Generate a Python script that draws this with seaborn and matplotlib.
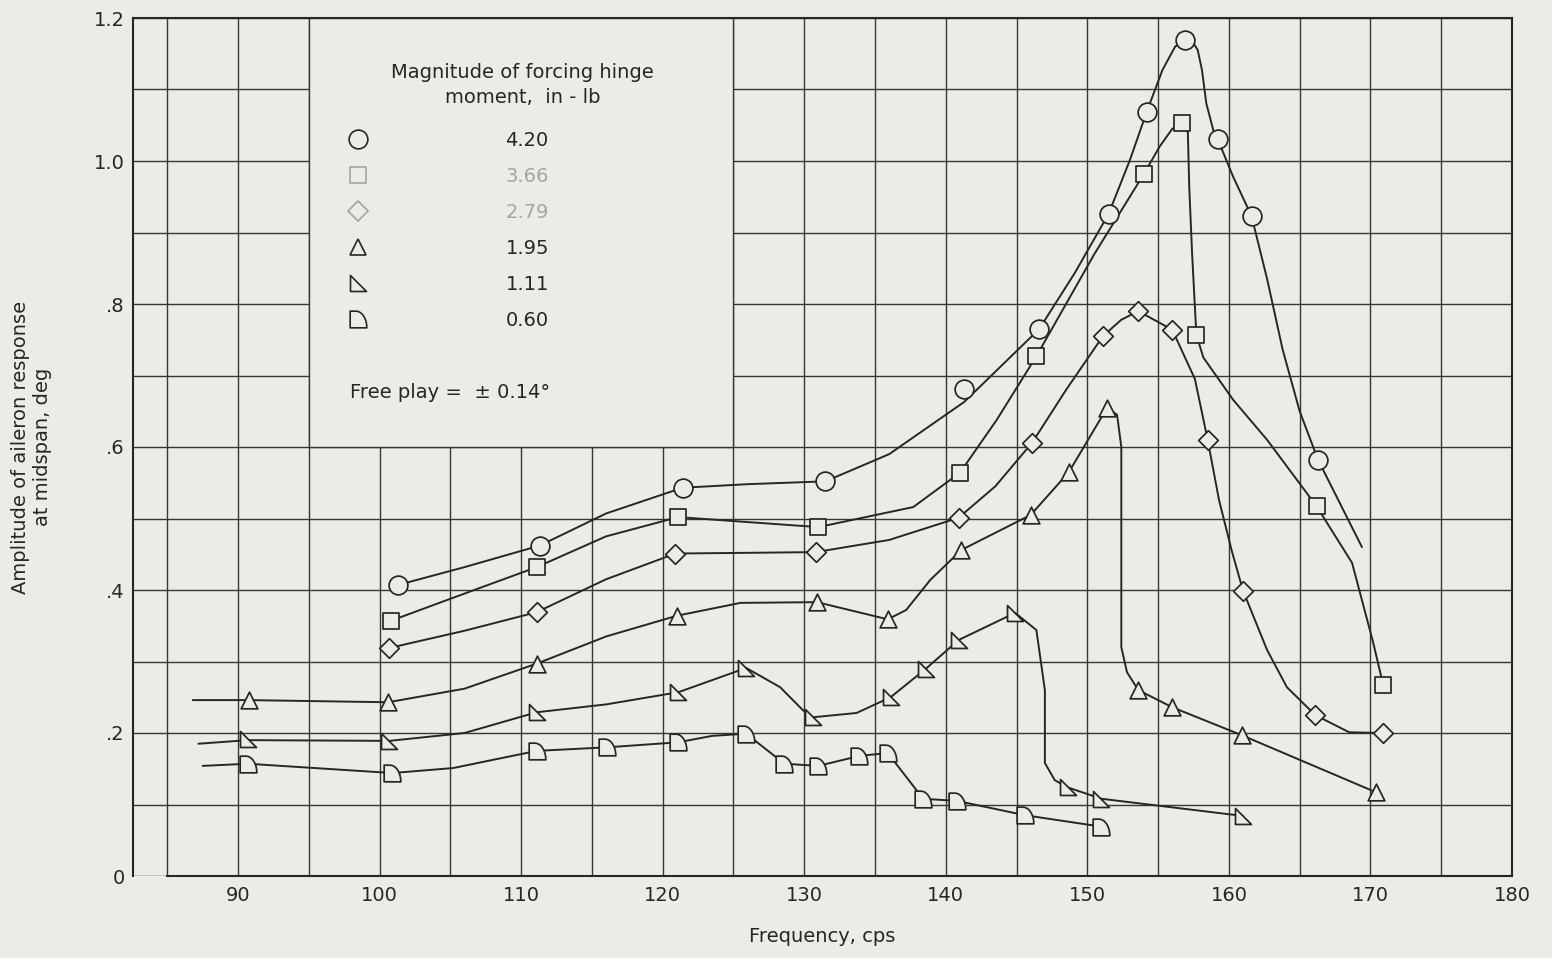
import numpy as np
import matplotlib
matplotlib.use("Agg")
import matplotlib.pyplot as plt
from matplotlib.path import Path
from matplotlib.lines import Line2D
from matplotlib.patches import Rectangle
import seaborn as sns

# ------------------------------------------------------------------
# values
# ------------------------------------------------------------------
hinge_moments = ["4.20", "3.66", "2.79", "1.95", "1.11", "0.60"]

# measured points (markers)
freq_420 = [101.3, 111.3, 121.4, 131.5, 141.3, 146.6, 151.5, 154.2, 156.9, 159.2, 161.6, 166.3]
amp_420 = [0.407, 0.462, 0.543, 0.552, 0.681, 0.765, 0.926, 1.069, 1.169, 1.031, 0.923, 0.582]

freq_366 = [100.8, 111.1, 121.1, 131.0, 141.0, 146.4, 154.0, 156.7, 157.7, 166.2, 170.9]
amp_366 = [0.357, 0.432, 0.502, 0.488, 0.564, 0.727, 0.982, 1.053, 0.757, 0.517, 0.267]

freq_279 = [100.7, 111.1, 120.9, 130.8, 140.9, 146.1, 151.1, 153.6, 156.0, 158.5, 161.0, 166.1, 170.9]
amp_279 = [0.319, 0.369, 0.451, 0.453, 0.501, 0.606, 0.755, 0.790, 0.764, 0.610, 0.399, 0.225, 0.200]

freq_195 = [90.8, 100.6, 111.1, 121.0, 130.9, 135.9, 141.1, 146.0, 148.7, 151.4, 153.6, 156.0, 160.9, 170.4]
amp_195 = [0.246, 0.243, 0.297, 0.364, 0.383, 0.359, 0.456, 0.505, 0.565, 0.655, 0.260, 0.236, 0.197, 0.117]

freq_111 = [90.7, 100.7, 111.1, 121.1, 125.9, 130.6, 136.1, 138.6, 140.9, 144.9, 148.6, 151.0, 161.0]
amp_111 = [0.192, 0.189, 0.229, 0.257, 0.291, 0.222, 0.250, 0.290, 0.330, 0.368, 0.124, 0.108, 0.084]

freq_060 = [90.7, 100.9, 111.1, 116.1, 121.1, 125.9, 128.6, 131.0, 133.9, 135.9, 138.4, 140.8, 145.6, 151.0]
amp_060 = [0.157, 0.144, 0.175, 0.180, 0.187, 0.199, 0.157, 0.154, 0.168, 0.172, 0.108, 0.105, 0.085, 0.069]

# faired curves as traced on the chart
curve_f_420 = [101.3, 106.0, 111.3, 116.0, 121.4, 126.0, 131.5, 136.0, 141.3, 146.6, 149.1, 151.5, 153.0,
               154.2, 155.3, 156.2, 156.9, 157.5, 157.8, 158.1, 158.4, 158.9, 159.2, 160.3, 161.6,
               162.7, 163.8, 165.0, 166.3, 169.4]
curve_a_420 = [0.407, 0.432, 0.462, 0.507, 0.543, 0.548, 0.552, 0.590, 0.663, 0.765, 0.843, 0.926, 1.001,
               1.069, 1.127, 1.160, 1.169, 1.165, 1.155, 1.127, 1.081, 1.043, 1.031, 0.978, 0.923,
               0.835, 0.736, 0.650, 0.582, 0.460]

curve_f_366 = [100.8, 106.0, 111.1, 116.0, 121.1, 126.0, 131.0, 137.7, 141.0, 143.6, 146.4, 150.5, 154.0,
               155.1, 156.0, 156.7, 157.1, 157.2, 157.4, 157.7, 158.2, 160.3, 162.7, 166.2, 168.7,
               170.2, 170.9]
curve_a_366 = [0.357, 0.395, 0.432, 0.475, 0.502, 0.495, 0.488, 0.516, 0.564, 0.638, 0.727, 0.870, 0.982,
               1.020, 1.045, 1.053, 1.040, 0.963, 0.871, 0.757, 0.725, 0.666, 0.610, 0.517, 0.438,
               0.326, 0.267]

curve_f_279 = [100.7, 106.0, 111.1, 116.0, 120.9, 126.0, 130.8, 136.0, 140.9, 143.5, 146.1, 148.5, 151.1,
               152.4, 153.6, 156.0, 157.6, 158.5, 159.3, 160.2, 161.0, 162.7, 164.1, 166.1, 168.5, 170.9]
curve_a_279 = [0.319, 0.343, 0.369, 0.415, 0.451, 0.452, 0.453, 0.470, 0.501, 0.545, 0.606, 0.680, 0.755,
               0.778, 0.790, 0.764, 0.695, 0.610, 0.526, 0.455, 0.399, 0.316, 0.264, 0.225, 0.201, 0.200]

curve_f_195 = [86.8, 90.8, 100.6, 106.0, 111.1, 116.0, 121.0, 125.5, 130.9, 135.9, 137.2, 138.9, 141.1,
               146.0, 148.7, 151.4, 152.1, 152.4, 152.4, 152.8, 153.6, 156.0, 160.9, 170.4]
curve_a_195 = [0.246, 0.246, 0.243, 0.262, 0.297, 0.335, 0.364, 0.382, 0.383, 0.359, 0.372, 0.414, 0.456,
               0.505, 0.565, 0.655, 0.645, 0.600, 0.320, 0.285, 0.260, 0.236, 0.197, 0.117]

curve_f_111 = [87.2, 90.7, 100.7, 106.0, 111.1, 116.0, 121.1, 125.9, 128.3, 129.9, 130.6, 133.7, 136.1,
               138.6, 140.9, 144.9, 146.4, 147.0, 147.0, 147.7, 148.6, 151.0, 161.0]
curve_a_111 = [0.185, 0.190, 0.189, 0.200, 0.229, 0.240, 0.257, 0.291, 0.264, 0.232, 0.222, 0.228, 0.250,
               0.290, 0.330, 0.368, 0.344, 0.260, 0.158, 0.134, 0.124, 0.108, 0.084]

curve_f_060 = [87.5, 90.7, 100.9, 105.2, 111.1, 116.1, 121.1, 123.5, 125.9, 128.6, 131.0, 133.9, 135.9,
               138.4, 140.8, 145.6, 151.0]
curve_a_060 = [0.154, 0.157, 0.144, 0.151, 0.175, 0.180, 0.187, 0.196, 0.199, 0.157, 0.154, 0.168, 0.172,
               0.108, 0.105, 0.085, 0.069]

# ------------------------------------------------------------------
paper = "#ecebe6"
ink = "#262626"
faded = "#a5a5a2"

sns.set_theme(style="white", rc={"axes.facecolor": paper, "figure.facecolor": paper})
plt.rcParams["font.family"] = ["DejaVu Sans"]
plt.rcParams["font.size"] = 14

# marker shapes
ramp_tri = Path([(-1, -1), (-1, 1), (1, -1), (-1, -1)],
                [Path.MOVETO, Path.LINETO, Path.LINETO, Path.CLOSEPOLY])
t = np.linspace(np.pi / 2, 0, 12)
d_verts = [(-1, -1), (-1, 1)] + list(zip(-0.3 + 1.3 * np.cos(t), -1 + 2 * np.sin(t))) + [(-1, -1)]
d_shape = Path(d_verts, [Path.MOVETO] + [Path.LINETO] * (len(d_verts) - 2) + [Path.CLOSEPOLY])

series = [
    (freq_420, amp_420, curve_f_420, curve_a_420, "o", 13.5),
    (freq_366, amp_366, curve_f_366, curve_a_366, "s", 11.5),
    (freq_279, amp_279, curve_f_279, curve_a_279, "D", 10.0),
    (freq_195, amp_195, curve_f_195, curve_a_195, "^", 12.0),
    (freq_111, amp_111, curve_f_111, curve_a_111, ramp_tri, 11.5),
    (freq_060, amp_060, curve_f_060, curve_a_060, d_shape, 12.0),
]

fig = plt.figure(figsize=(15.52, 9.58), dpi=100)
ax = fig.add_axes([133 / 1552, 1 - 876 / 958, (1512 - 133) / 1552, (876 - 18) / 958])

for fx, ay, cf, ca, mk, ms in series:
    sns.lineplot(x=cf, y=ca, sort=False, estimator=None, color=ink, lw=1.4, ax=ax, zorder=2)
    sns.scatterplot(x=fx, y=ay, marker=mk, s=ms ** 2, color=paper, edgecolor=ink,
                    linewidth=1.25, ax=ax, zorder=3)

# axes, grid
ax.set_xlim(82.58, 180)
ax.set_ylim(0, 1.2)
ax.set_xticks(np.arange(90, 181, 10))
ax.set_xticks(np.arange(85, 180, 5), minor=True)
ax.set_yticks(np.arange(0, 1.21, 0.2))
ax.set_yticks(np.arange(0.1, 1.2, 0.2), minor=True)
ax.set_yticklabels(["0", ".2", ".4", ".6", ".8", "1.0", "1.2"])
ax.get_yticklabels()[5].set_color(faded)
ax.grid(which="both", color="#363636", lw=1.0)
ax.set_axisbelow(True)
ax.tick_params(axis="x", which="both", length=0, pad=7, labelsize=14, colors=ink)
ax.tick_params(axis="y", which="major", direction="in", length=11, width=1.2, pad=6, labelsize=14, colors=ink)
ax.tick_params(axis="y", which="minor", length=0)
for sp in ax.spines.values():
    sp.set_color(ink)
    sp.set_linewidth(1.5)
ax.spines["bottom"].set_bounds(85, 180)

# blank block behind the key
ax.add_patch(Rectangle((95, 0.6), 30, 0.6, facecolor=paper, edgecolor="#363636", lw=1.0, zorder=1))

ax.set_xlabel("Frequency, cps", fontsize=14, color=ink, labelpad=16)
ax.set_ylabel("Amplitude of aileron response\nat midspan, deg", fontsize=14, color=ink)
ax.yaxis.set_label_coords(-0.059, 0.5)

# key
ax.text(110.1, 1.124, "Magnitude of forcing hinge", ha="center", va="center", fontsize=14, color=ink)
ax.text(110.1, 1.089, "moment,  in - lb", ha="center", va="center", fontsize=14, color=ink)
handles = []
for i, (_, _, _, _, mk, ms) in enumerate(series):
    ec = faded if i in (1, 2) else ink
    handles.append(Line2D([], [], marker=mk, linestyle="none", markersize=ms,
                          markerfacecolor=paper, markeredgecolor=ec, markeredgewidth=1.2))
leg = ax.legend(handles, hinge_moments, loc="upper left", bbox_to_anchor=(97.77, 1.042),
                bbox_transform=ax.transData, frameon=False, borderpad=0, borderaxespad=0,
                handlelength=1.0, handletextpad=7.1, labelspacing=0.87, fontsize=14)
for i, txt in enumerate(leg.get_texts()):
    txt.set_color(faded if i in (1, 2) else ink)
ax.text(105.0, 0.676, "Free play =  \u00b1 0.14\u00b0", ha="center", va="center", fontsize=14, color=ink)

fig.savefig("out.png", dpi=100, facecolor=paper)
